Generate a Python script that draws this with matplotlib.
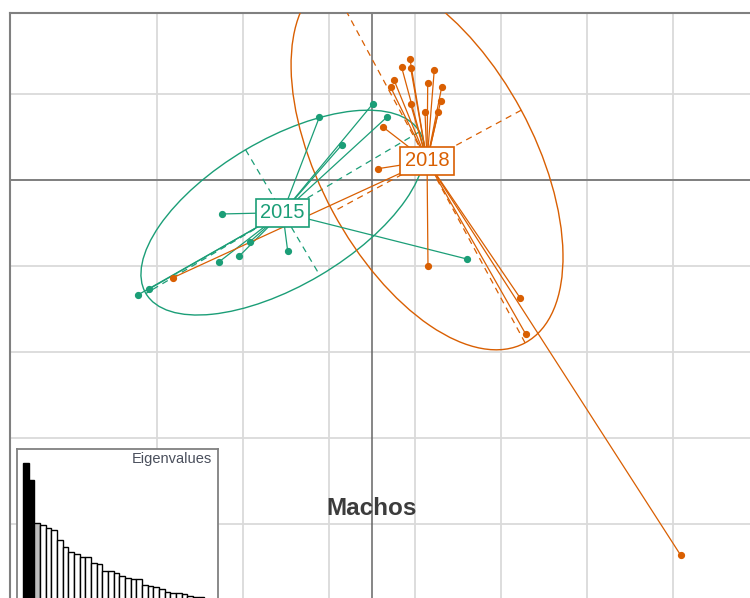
import numpy as np
import matplotlib
matplotlib.use("Agg")
import matplotlib.pyplot as plt
from matplotlib.patches import Ellipse

# ---------------- data ----------------
groups = ["2015", "2018"]
colors = ["#1B9E77", "#D95F02"]

x_2015 = [-1.744, -2.724, -2.590, -1.776, -1.543, -1.419, -0.980, -0.613, -0.352, 0.008, 0.171, 1.105]
y_2015 = [-0.395, -1.337, -1.267, -0.950, -0.884, -0.717, -0.829, 0.729, 0.407, 0.884, 0.729, -0.919]

x_2018 = [-2.314, 0.131, 0.066, 0.442, 0.345, 0.450, 0.724, 0.256, 0.648, 0.217, 0.810, 0.799,
          0.450, 0.616, 0.771, 0.651, 1.721, 1.787, 3.590]
y_2018 = [-1.136, 0.613, 0.131, 1.403, 1.310, 1.299, 1.279, 1.163, 1.131, 1.078, 1.078, 0.919,
          0.880, 0.787, 0.787, -1.000, -1.369, -1.791, -4.364]

eigenvalues = [186, 169, 126, 124, 121, 119, 109, 102, 97, 95, 92, 92, 86, 85, 78, 78,
               76, 73, 71, 70, 70, 64, 63, 62, 60, 57, 56, 56, 55, 53, 52, 52, 48]
n_black = 2
n_grey = 1

title = "Machos"
xgrid = [-2.5, -1.5, -0.5, 0.5, 1.5, 2.5, 3.5]
ygrid = [1, 0, -1, -2, -3, -4]

# ---------------- figure ----------------
W, H = 750, 598
fig = plt.figure(figsize=(W / 100, H / 100), dpi=100)
fig.patch.set_facecolor("white")

unit = 86.0
ox, oy = 372.0, 180.0
ax = fig.add_axes([10 / W, 0, (W - 10) / W, (H - 13) / H])
ax.set_xlim((10 - ox) / unit, (W - ox) / unit)
ax.set_ylim((oy - H) / unit, (oy - 13) / unit)
ax.set_xticks([]); ax.set_yticks([])
for s in ["right", "bottom"]:
    ax.spines[s].set_visible(False)
for s in ["left", "top"]:
    ax.spines[s].set_color("#808080")
    ax.spines[s].set_linewidth(1.5)

for gx in xgrid:
    ax.axvline(gx, color="#DADADA", lw=1.3, zorder=0)
for gy in ygrid:
    ax.axhline(gy, color="#DADADA", lw=1.3, zorder=0)
ax.axvline(0, color="#666666", lw=1.1, zorder=1)
ax.axhline(0, color="#666666", lw=1.1, zorder=1)

ax.text(0, -3.82, title, ha="center", va="center", fontsize=17.5, fontweight="bold",
        color="#3C3C3C", family="Liberation Sans", zorder=2)

data = [(x_2015, y_2015), (x_2018, y_2018)]
cell = 1.5
centers = []
for (xs, ys), col in zip(data, colors):
    xs = np.asarray(xs); ys = np.asarray(ys)
    mx, my = xs.mean(), ys.mean()
    centers.append((mx, my))
    cov = np.cov(np.vstack([xs, ys]), bias=True)
    vals, vecs = np.linalg.eigh(cov)
    order = vals.argsort()[::-1]
    vals = vals[order]; vecs = vecs[:, order]
    a = cell * np.sqrt(vals[0]); b = cell * np.sqrt(vals[1])
    ang = np.degrees(np.arctan2(vecs[1, 0], vecs[0, 0]))
    ax.add_patch(Ellipse((mx, my), 2 * a, 2 * b, angle=ang, fill=False, ec=col, lw=1.0, zorder=3))
    for L, v in ((a, vecs[:, 0]), (b, vecs[:, 1])):
        ax.plot([mx - L * v[0], mx + L * v[0]], [my - L * v[1], my + L * v[1]],
                color=col, lw=0.9, ls=(0, (5, 4)), zorder=3)
    for px, py in zip(xs, ys):
        ax.plot([mx, px], [my, py], color=col, lw=0.9, zorder=4)
    ax.plot(xs, ys, "o", color=col, ms=4.2, mec=col, zorder=5)

for (mx, my), col, lab in zip(centers, colors, groups):
    ax.text(mx, my, lab, ha="center", va="center", fontsize=14.5, color=col,
            family="Liberation Sans", zorder=6,
            bbox=dict(boxstyle="square,pad=0.22", fc="white", ec=col, lw=1.2))

# ---------------- eigenvalue inset ----------------
iax = fig.add_axes([17 / W, (H - 649) / H, 201 / W, 200 / H])
iax.set_facecolor("white")
n = len(eigenvalues)
bw = 5.67
iax.set_xlim(-6 / bw, (201 - 6) / bw)
iax.set_ylim(0, 200)
bar_cols = ["black"] * n_black + ["#BEBEBE"] * n_grey + ["white"] * (n - n_black - n_grey)
iax.bar(np.arange(n) + 0.5, eigenvalues, width=1.0, color=bar_cols, edgecolor="black", lw=1.0)
iax.set_xticks([]); iax.set_yticks([])
for s in iax.spines.values():
    s.set_color("#808080"); s.set_linewidth(1.3)
iax.text(0.97, 0.985, "Eigenvalues", transform=iax.transAxes, ha="right", va="top",
         fontsize=10.5, color="#4A4F5C", family="Liberation Sans")

fig.savefig("out.png", dpi=100)
